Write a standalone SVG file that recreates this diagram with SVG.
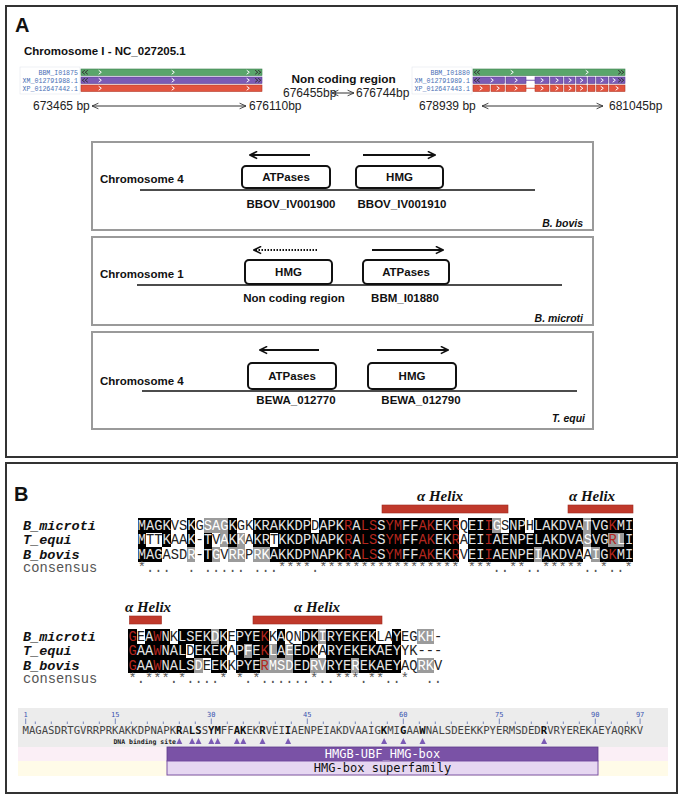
<svg xmlns="http://www.w3.org/2000/svg" width="684" height="800" viewBox="0 0 684 800">
<defs>
<style>
.sans{font-family:"Liberation Sans",Arial,sans-serif;fill:#111}
.bd{font-weight:bold}
.t{font-size:11.5px}
.gl{font-family:"Liberation Mono",monospace;font-size:6.6px;fill:#4a6fb5}
.bp{font-family:"Liberation Sans",Arial,sans-serif;font-size:12px;fill:#222}
.gbox{fill:#fff;stroke:#111;stroke-width:2}
.sub{fill:#fff;stroke:#9a9a9a;stroke-width:2}
.panel{fill:none;stroke:#333;stroke-width:2}
.arr{stroke:#111;stroke-width:2;fill:none}
.thin{stroke:#333;stroke-width:1;fill:none}
.chr{stroke:#111;stroke-width:1.5}
.seq{font-family:"Liberation Mono","Courier New",monospace;font-size:13.75px;white-space:pre}
.nm{font-family:"Liberation Mono","Courier New",monospace;font-size:13.5px;font-weight:bold;font-style:italic;fill:#111}
.cons{font-family:"Liberation Mono","Courier New",monospace;font-size:13.75px;fill:#555;white-space:pre}
.k{fill:#e4e4e4}.w{fill:#fff}.d{fill:#222}.r{fill:#b3261e}
.bk{fill:#000}.gy{fill:#9b9b9b}
.helix{font-family:"Liberation Serif","Times New Roman",serif;font-size:15px;font-weight:bold;font-style:italic;fill:#111}
.hbar{fill:#c0392b;stroke:#9e2a20;stroke-width:0.6}
.ds{font-family:"DejaVu Sans Mono","Liberation Mono",monospace;font-size:10.63px;fill:#444}
.ruler{font-family:"DejaVu Sans Mono","Liberation Mono",monospace;font-size:7px;fill:#3a55b0}
.green{fill:#5aa56b;stroke:#3d7f4e;stroke-width:0.6}
.purple{fill:#7b5bb5;stroke:#5a3f93;stroke-width:0.6}
.red{fill:#e2543f;stroke:#b23b2a;stroke-width:0.6}
</style>
<marker id="ah" viewBox="0 0 10 10" refX="9" refY="5" markerWidth="4.5" markerHeight="4.5" orient="auto-start-reverse"><path d="M1,1 L9,5 L1,9" fill="none" stroke="#111" stroke-width="1.8"/></marker>
<marker id="ah2" viewBox="0 0 10 10" refX="9" refY="5" markerWidth="8" markerHeight="8" orient="auto-start-reverse"><path d="M1,1.5 L9,5 L1,8.5" fill="none" stroke="#333" stroke-width="1.1"/></marker>
<path id="cw" d="M-1.3,-2 L1.3,0 L-1.3,2" fill="none" stroke="#fff" stroke-width="1"/>
<path id="cl" d="M1.3,-2 L-1.3,0 L1.3,2" fill="none" stroke="#333" stroke-width="1"/>
<path id="cr" d="M-1.3,-2 L1.3,0 L-1.3,2" fill="none" stroke="#333" stroke-width="1"/>
</defs>
<rect width="684" height="800" fill="#fff"/>

<!-- PANEL A -->
<g id="panelA">
<rect class="panel" x="6" y="6" width="671" height="451"/>
<text class="sans bd" x="15" y="32" font-size="20">A</text>
<text class="sans bd" x="24" y="55" font-size="11.5">Chromosome I - NC_027205.1</text>

<g id="tracksLeft">
<rect x="20" y="67" width="60" height="27" fill="#fff" stroke="#e3e6ee" stroke-width="0.6"/>
<text class="gl" x="78" y="74.5" text-anchor="end">BBM_I01875</text>
<text class="gl" x="78" y="82.5" text-anchor="end">XM_012791988.1</text>
<text class="gl" x="78" y="90.5" text-anchor="end">XP_012647442.1</text>
<rect class="green" x="81" y="69" width="181" height="6.5"/>
<rect class="purple" x="81" y="77" width="181" height="6.5"/>
<rect class="red" x="81" y="85" width="181" height="6.5"/>
<use href="#cl" x="83.5" y="72.25"/><use href="#cl" x="86.5" y="72.25"/>
<use href="#cw" x="100" y="72.25"/><use href="#cw" x="173" y="72.25"/><use href="#cw" x="248" y="72.25"/>
<use href="#cr" x="256.5" y="72.25"/><use href="#cr" x="259.5" y="72.25"/>
<use href="#cl" x="83.5" y="80.25"/><use href="#cl" x="86.5" y="80.25"/>
<use href="#cw" x="100" y="80.25"/><use href="#cw" x="173" y="80.25"/><use href="#cw" x="248" y="80.25"/>
<use href="#cr" x="256.5" y="80.25"/><use href="#cr" x="259.5" y="80.25"/>
<use href="#cw" x="100" y="88.25"/><use href="#cw" x="173" y="88.25"/><use href="#cw" x="248" y="88.25"/>
<text class="bp" x="33" y="110">673465 bp</text>
<line class="thin" x1="92" y1="106" x2="246" y2="106" marker-start="url(#ah2)" marker-end="url(#ah2)"/>
<text class="bp" x="249" y="110">676110bp</text>
</g>

<g id="noncoding">
<text class="sans bd" x="291.5" y="82.5" font-size="11.8">Non coding region</text>
<text class="bp" x="283" y="96.5" font-size="10.5">676455bp</text>
<line class="thin" x1="332" y1="93" x2="354" y2="93" marker-start="url(#ah2)" marker-end="url(#ah2)"/>
<text class="bp" x="356" y="96.5" font-size="10.5">676744bp</text>
</g>

<g id="tracksRight">
<rect x="412" y="67" width="60" height="27" fill="#fff" stroke="#e3e6ee" stroke-width="0.6"/>
<text class="gl" x="470" y="74.5" text-anchor="end">BBM_I01880</text>
<text class="gl" x="470" y="82.5" text-anchor="end">XM_012791989.1</text>
<text class="gl" x="470" y="90.5" text-anchor="end">XP_012647443.1</text>
<rect class="green" x="473" y="69" width="152" height="6.5"/>
<use href="#cl" x="475.5" y="72.25"/><use href="#cl" x="478.5" y="72.25"/>
<use href="#cw" x="512" y="72.25"/><use href="#cw" x="587" y="72.25"/>
<use href="#cr" x="619.5" y="72.25"/><use href="#cr" x="622.5" y="72.25"/>
<line x1="526" y1="80.25" x2="535" y2="80.25" stroke="#7b5bb5" stroke-width="1"/>
<g class="purple">
<rect x="473" y="77" width="31.5" height="6.5"/><rect x="506" y="77" width="20" height="6.5"/>
<rect x="535" y="77" width="14" height="6.5"/><rect x="550.5" y="77" width="12.5" height="6.5"/>
<rect x="564.5" y="77" width="10.5" height="6.5"/><rect x="576.5" y="77" width="10" height="6.5"/>
<rect x="588" y="77" width="7" height="6.5"/><rect x="596.5" y="77" width="11.5" height="6.5"/>
<rect x="609.5" y="77" width="15.5" height="6.5"/>
</g>
<use href="#cl" x="475.5" y="80.25"/><use href="#cl" x="478.5" y="80.25"/>
<use href="#cw" x="492" y="80.25"/><use href="#cw" x="516" y="80.25"/><use href="#cw" x="542" y="80.25"/>
<use href="#cw" x="557" y="80.25"/><use href="#cw" x="570" y="80.25"/><use href="#cw" x="581.5" y="80.25"/>
<use href="#cw" x="602" y="80.25"/><use href="#cw" x="614" y="80.25"/>
<use href="#cr" x="619.5" y="80.25"/><use href="#cr" x="622.5" y="80.25"/>
<line x1="526" y1="88.25" x2="535" y2="88.25" stroke="#e2543f" stroke-width="1"/>
<g class="red">
<rect x="473" y="85" width="16.5" height="6.5"/><rect x="491" y="85" width="13.5" height="6.5"/>
<rect x="506" y="85" width="20" height="6.5"/>
<rect x="535" y="85" width="14" height="6.5"/><rect x="550.5" y="85" width="12.5" height="6.5"/>
<rect x="564.5" y="85" width="10.5" height="6.5"/><rect x="576.5" y="85" width="10" height="6.5"/>
<rect x="588" y="85" width="7" height="6.5"/><rect x="596.5" y="85" width="11.5" height="6.5"/>
<rect x="609.5" y="85" width="15.5" height="6.5"/>
</g>
<use href="#cw" x="481" y="88.25"/><use href="#cw" x="498" y="88.25"/><use href="#cw" x="516" y="88.25"/>
<use href="#cw" x="542" y="88.25"/><use href="#cw" x="557" y="88.25"/><use href="#cw" x="570" y="88.25"/>
<use href="#cw" x="581.5" y="88.25"/><use href="#cw" x="602" y="88.25"/><use href="#cw" x="617" y="88.25"/>
<text class="bp" x="419" y="110">678939 bp</text>
<line class="thin" x1="482" y1="106" x2="603" y2="106" marker-start="url(#ah2)" marker-end="url(#ah2)"/>
<text class="bp" x="609" y="110">681045bp</text>
</g>

<g id="bbovis">
<rect class="sub" x="92" y="142" width="501" height="88"/>
<line class="chr" x1="140" y1="190" x2="535" y2="190"/>
<text class="sans bd t" x="100" y="183" font-size="11">Chromosome 4</text>
<line class="arr" x1="310" y1="155" x2="250" y2="155" marker-end="url(#ah)"/>
<line class="arr" x1="363" y1="155" x2="435" y2="155" marker-end="url(#ah)"/>
<rect class="gbox" x="242" y="166" width="88" height="22" rx="4"/>
<rect class="gbox" x="356" y="166" width="87" height="22" rx="4"/>
<text class="sans bd t" x="286" y="181" text-anchor="middle">ATPases</text>
<text class="sans bd t" x="399.5" y="181" text-anchor="middle">HMG</text>
<text class="sans bd t" x="291" y="208" text-anchor="middle">BBOV_IV001900</text>
<text class="sans bd t" x="402" y="208" text-anchor="middle">BBOV_IV001910</text>
<text class="sans bd" x="583" y="227" font-size="10.5" font-style="italic" text-anchor="end">B. bovis</text>
</g>

<g id="bmicroti">
<rect class="sub" x="92" y="237" width="501" height="88"/>
<line class="chr" x1="137" y1="285" x2="562" y2="285"/>
<text class="sans bd t" x="100" y="278" font-size="11">Chromosome 1</text>
<line class="arr" x1="317" y1="250" x2="254" y2="250" stroke-dasharray="1.5,1.5" stroke-width="1.8" marker-end="url(#ah)"/>
<line class="arr" x1="372" y1="250" x2="443" y2="250" marker-end="url(#ah)"/>
<rect class="gbox" x="245" y="260" width="87" height="24" rx="4"/>
<rect class="gbox" x="363" y="260" width="86" height="24" rx="4"/>
<text class="sans bd t" x="288.5" y="276" text-anchor="middle">HMG</text>
<text class="sans bd t" x="406" y="276" text-anchor="middle">ATPases</text>
<text class="sans bd t" x="294" y="302" text-anchor="middle">Non coding region</text>
<text class="sans bd t" x="405" y="302" text-anchor="middle">BBM_I01880</text>
<text class="sans bd" x="583" y="322" font-size="10.5" font-style="italic" text-anchor="end">B. microti</text>
</g>

<g id="tequi">
<rect class="sub" x="92" y="332" width="501" height="97"/>
<line class="chr" x1="142" y1="391" x2="577" y2="391"/>
<text class="sans bd t" x="100" y="385" font-size="11">Chromosome 4</text>
<line class="arr" x1="319" y1="350" x2="260" y2="350" marker-end="url(#ah)"/>
<line class="arr" x1="377" y1="350" x2="448" y2="350" marker-end="url(#ah)"/>
<rect class="gbox" x="248" y="363" width="88" height="26" rx="4"/>
<rect class="gbox" x="368" y="363" width="88" height="26" rx="4"/>
<text class="sans bd t" x="292" y="380" text-anchor="middle">ATPases</text>
<text class="sans bd t" x="412" y="380" text-anchor="middle">HMG</text>
<text class="sans bd t" x="296" y="404" text-anchor="middle">BEWA_012770</text>
<text class="sans bd t" x="421" y="404" text-anchor="middle">BEWA_012790</text>
<text class="sans bd" x="585" y="422" font-size="10.5" font-style="italic" text-anchor="end">T. equi</text>
</g>
</g>

<!-- PANEL B -->
<g id="panelB">
<rect class="panel" x="6" y="463" width="671" height="330"/>
<text class="sans bd" x="14" y="501" font-size="20">B</text>

<g id="block1">
<rect class="hbar" x="382" y="505" width="126" height="8"/>
<rect class="hbar" x="568" y="505" width="65" height="8"/>
<text class="helix" x="440" y="501" text-anchor="middle">α Helix</text>
<text class="helix" x="592" y="501" text-anchor="middle">α Helix</text>
<text class="nm" x="23" y="529.5">B_microti</text>
<text class="nm" x="23" y="544">T_equi</text>
<text class="nm" x="23" y="558.5">B_bovis</text>
<text class="cons" x="23" y="572">consensus</text>
<g transform="translate(137.7,518)" shape-rendering="crispEdges">
<g class="bk">
<rect x="0" y="0" width="33" height="14.5"/><rect x="49.5" y="0" width="8.25" height="14.5"/><rect x="90.75" y="0" width="8.25" height="14.5"/><rect x="115.5" y="0" width="57.75" height="14.5"/><rect x="181.5" y="0" width="140.25" height="14.5"/><rect x="330" y="0" width="24.75" height="14.5"/><rect x="371.25" y="0" width="16.5" height="14.5"/><rect x="396" y="0" width="49.5" height="14.5"/><rect x="453.75" y="0" width="41.25" height="14.5"/>
<rect x="0" y="14.5" width="8.25" height="14.5"/><rect x="24.75" y="14.5" width="8.25" height="14.5"/><rect x="49.5" y="14.5" width="8.25" height="14.5"/><rect x="66" y="14.5" width="8.25" height="14.5"/><rect x="90.75" y="14.5" width="8.25" height="14.5"/><rect x="115.5" y="14.5" width="16.5" height="14.5"/><rect x="140.25" y="14.5" width="181.5" height="14.5"/><rect x="330" y="14.5" width="115.5" height="14.5"/><rect x="453.75" y="14.5" width="16.5" height="14.5"/><rect x="486.75" y="14.5" width="8.25" height="14.5"/>
<rect x="0" y="29" width="24.75" height="14.5"/><rect x="66" y="29" width="8.25" height="14.5"/><rect x="132" y="29" width="189.75" height="14.5"/><rect x="330" y="29" width="66" height="14.5"/><rect x="404.25" y="29" width="41.25" height="14.5"/><rect x="462" y="29" width="33" height="14.5"/>
</g>
<g class="gy">
<rect x="66" y="0" width="24.75" height="14.5"/><rect x="354.75" y="0" width="8.25" height="14.5"/><rect x="445.5" y="0" width="8.25" height="14.5"/>
<rect x="82.5" y="14.5" width="8.25" height="14.5"/><rect x="99" y="14.5" width="8.25" height="14.5"/><rect x="445.5" y="14.5" width="8.25" height="14.5"/><rect x="470.25" y="14.5" width="16.5" height="14.5"/>
<rect x="49.5" y="29" width="8.25" height="14.5"/><rect x="74.25" y="29" width="8.25" height="14.5"/><rect x="90.75" y="29" width="16.5" height="14.5"/><rect x="115.5" y="29" width="16.5" height="14.5"/><rect x="396" y="29" width="8.25" height="14.5"/><rect x="453.75" y="29" width="8.25" height="14.5"/>
</g>
</g>
<text class="seq" x="137.7" y="529.5"><tspan class="k">MAGK</tspan><tspan class="d">VS</tspan><tspan class="k">K</tspan><tspan class="d">G</tspan><tspan class="w">SAG</tspan><tspan class="k">K</tspan><tspan class="d">GK</tspan><tspan class="k">KRAKKDP</tspan><tspan class="d">D</tspan><tspan class="k">APK</tspan><tspan class="r">R</tspan><tspan class="k">A</tspan><tspan class="r">LS</tspan><tspan class="k">S</tspan><tspan class="r">YM</tspan><tspan class="k">FF</tspan><tspan class="r">AK</tspan><tspan class="k">EK</tspan><tspan class="r">R</tspan><tspan class="d">Q</tspan><tspan class="k">EI</tspan><tspan class="r">I</tspan><tspan class="w">G</tspan><tspan class="d">S</tspan><tspan class="k">NP</tspan><tspan class="d">H</tspan><tspan class="k">LAKDVA</tspan><tspan class="w">T</tspan><tspan class="k">VG</tspan><tspan class="r">K</tspan><tspan class="k">MI</tspan></text>
<text class="seq" x="137.7" y="544"><tspan class="k">M</tspan><tspan class="d">TT</tspan><tspan class="k">K</tspan><tspan class="d">AA</tspan><tspan class="k">K</tspan><tspan class="d">-</tspan><tspan class="k">T</tspan><tspan class="d">V</tspan><tspan class="w">A</tspan><tspan class="k">K</tspan><tspan class="w">K</tspan><tspan class="d">A</tspan><tspan class="k">KR</tspan><tspan class="d">T</tspan><tspan class="k">KKDPNAPK</tspan><tspan class="r">R</tspan><tspan class="k">A</tspan><tspan class="r">LS</tspan><tspan class="k">S</tspan><tspan class="r">YM</tspan><tspan class="k">FF</tspan><tspan class="r">AK</tspan><tspan class="k">EK</tspan><tspan class="r">R</tspan><tspan class="d">A</tspan><tspan class="k">EI</tspan><tspan class="r">I</tspan><tspan class="k">AENPELAKDVA</tspan><tspan class="w">S</tspan><tspan class="k">VG</tspan><tspan class="r">R</tspan><tspan class="w">L</tspan><tspan class="k">I</tspan></text>
<text class="seq" x="137.7" y="558.5"><tspan class="k">MAG</tspan><tspan class="d">ASD</tspan><tspan class="w">R</tspan><tspan class="d">-</tspan><tspan class="k">T</tspan><tspan class="w">G</tspan><tspan class="d">V</tspan><tspan class="w">RR</tspan><tspan class="d">P</tspan><tspan class="w">RK</tspan><tspan class="k">AKKDPNAPK</tspan><tspan class="r">R</tspan><tspan class="k">A</tspan><tspan class="r">LS</tspan><tspan class="k">S</tspan><tspan class="r">YM</tspan><tspan class="k">FF</tspan><tspan class="r">AK</tspan><tspan class="k">EK</tspan><tspan class="r">R</tspan><tspan class="d">V</tspan><tspan class="k">EI</tspan><tspan class="r">I</tspan><tspan class="k">AENPE</tspan><tspan class="w">I</tspan><tspan class="k">AKDVA</tspan><tspan class="d">A</tspan><tspan class="w">I</tspan><tspan class="k">G</tspan><tspan class="r">K</tspan><tspan class="k">MI</tspan></text>
<text class="cons" x="137.7" y="572" xml:space="preserve">*...  . ..... ...****.***************** ***..**..*****..*..*</text>
</g>

<g id="block2">
<rect class="hbar" x="129.5" y="616" width="32" height="8"/>
<rect class="hbar" x="253" y="616" width="129" height="8"/>
<text class="helix" x="148" y="612" text-anchor="middle">α Helix</text>
<text class="helix" x="317" y="612" text-anchor="middle">α Helix</text>
<text class="nm" x="23" y="640.5">B_microti</text>
<text class="nm" x="23" y="655">T_equi</text>
<text class="nm" x="23" y="669.5">B_bovis</text>
<text class="cons" x="23" y="683">consensus</text>
<g transform="translate(128.4,629)" shape-rendering="crispEdges">
<g class="bk">
<rect x="0" y="0" width="8.25" height="14.5"/><rect x="16.5" y="0" width="24.75" height="14.5"/><rect x="49.5" y="0" width="33" height="14.5"/><rect x="90.75" y="0" width="8.25" height="14.5"/><rect x="107.25" y="0" width="33" height="14.5"/><rect x="148.5" y="0" width="8.25" height="14.5"/><rect x="173.25" y="0" width="16.5" height="14.5"/><rect x="198" y="0" width="49.5" height="14.5"/><rect x="264" y="0" width="8.25" height="14.5"/>
<rect x="0" y="14.5" width="57.75" height="14.5"/><rect x="66" y="14.5" width="33" height="14.5"/><rect x="107.25" y="14.5" width="8.25" height="14.5"/><rect x="123.75" y="14.5" width="16.5" height="14.5"/><rect x="148.5" y="14.5" width="8.25" height="14.5"/><rect x="165" y="14.5" width="24.75" height="14.5"/><rect x="198" y="14.5" width="74.25" height="14.5"/>
<rect x="0" y="29" width="66" height="14.5"/><rect x="82.5" y="29" width="16.5" height="14.5"/><rect x="107.25" y="29" width="24.75" height="14.5"/><rect x="165" y="29" width="16.5" height="14.5"/><rect x="198" y="29" width="24.75" height="14.5"/><rect x="231" y="29" width="41.25" height="14.5"/>
</g>
<g class="gy">
<rect x="82.5" y="0" width="8.25" height="14.5"/><rect x="189.75" y="0" width="8.25" height="14.5"/><rect x="288.75" y="0" width="16.5" height="14.5"/>
<rect x="115.5" y="14.5" width="8.25" height="14.5"/><rect x="140.25" y="14.5" width="8.25" height="14.5"/><rect x="156.75" y="14.5" width="8.25" height="14.5"/>
<rect x="66" y="29" width="8.25" height="14.5"/><rect x="132" y="29" width="33" height="14.5"/><rect x="181.5" y="29" width="16.5" height="14.5"/><rect x="222.75" y="29" width="8.25" height="14.5"/><rect x="288.75" y="29" width="16.5" height="14.5"/>
</g>
</g>
<text class="seq" x="128.4" y="640.5"><tspan class="r">G</tspan><tspan class="d">E</tspan><tspan class="k">A</tspan><tspan class="r">W</tspan><tspan class="k">N</tspan><tspan class="d">K</tspan><tspan class="k">LSEK</tspan><tspan class="w">D</tspan><tspan class="k">K</tspan><tspan class="d">E</tspan><tspan class="k">PYE</tspan><tspan class="r">K</tspan><tspan class="d">K</tspan><tspan class="k">A</tspan><tspan class="d">QN</tspan><tspan class="k">DK</tspan><tspan class="w">I</tspan><tspan class="k">RYEKEK</tspan><tspan class="d">LA</tspan><tspan class="k">Y</tspan><tspan class="d">EG</tspan><tspan class="w">KH</tspan><tspan class="d">-</tspan></text>
<text class="seq" x="128.4" y="655"><tspan class="r">G</tspan><tspan class="k">AA</tspan><tspan class="r">W</tspan><tspan class="k">NAL</tspan><tspan class="d">D</tspan><tspan class="k">EKEK</tspan><tspan class="d">A</tspan><tspan class="k">P</tspan><tspan class="w">F</tspan><tspan class="k">E</tspan><tspan class="r">K</tspan><tspan class="w">L</tspan><tspan class="k">A</tspan><tspan class="w">E</tspan><tspan class="k">EDK</tspan><tspan class="d">A</tspan><tspan class="k">RYEKEKAEY</tspan><tspan class="d">YK---</tspan></text>
<text class="seq" x="128.4" y="669.5"><tspan class="r">G</tspan><tspan class="k">AA</tspan><tspan class="r">W</tspan><tspan class="k">NALS</tspan><tspan class="w">D</tspan><tspan class="d">E</tspan><tspan class="k">EK</tspan><tspan class="d">K</tspan><tspan class="k">PYE</tspan><tspan class="r">R</tspan><tspan class="w">MSD</tspan><tspan class="k">ED</tspan><tspan class="w">RV</tspan><tspan class="k">RYE</tspan><tspan class="w">R</tspan><tspan class="k">EKAEY</tspan><tspan class="d">AQ</tspan><tspan class="w">RK</tspan><tspan class="d">V</tspan></text>
<text class="cons" x="128.4" y="683" xml:space="preserve">*.***.*....* *.*......*..***.**..*  ..</text>
</g>

<g id="domainViewer">
<rect x="18" y="708" width="650" height="39" fill="#ececec"/>
<rect x="18" y="747" width="650" height="14" fill="#fbeff6"/>
<rect x="18" y="761" width="650" height="15" fill="#fffbe8"/>
<g class="ruler" text-anchor="middle">
<text x="25.7" y="717">1</text><text x="115.3" y="717">15</text><text x="211.3" y="717">30</text><text x="307.3" y="717">45</text><text x="403.3" y="717">60</text><text x="499.3" y="717">75</text><text x="595.3" y="717">90</text><text x="640.1" y="717">97</text>
</g>
<path stroke="#5a6fb0" stroke-width="0.8" fill="none" d="M25.7,718.5V724 M115.3,718.5V724 M211.3,718.5V724 M307.3,718.5V724 M403.3,718.5V724 M499.3,718.5V724 M595.3,718.5V724 M640.1,718.5V724 M35.3,721.5V724 M51.3,721.5V724 M67.3,721.5V724 M83.3,721.5V724 M99.3,721.5V724 M131.3,721.5V724 M147.3,721.5V724 M163.3,721.5V724 M179.3,721.5V724 M195.3,721.5V724 M227.3,721.5V724 M243.3,721.5V724 M259.3,721.5V724 M275.3,721.5V724 M291.3,721.5V724 M323.3,721.5V724 M339.3,721.5V724 M355.3,721.5V724 M371.3,721.5V724 M387.3,721.5V724 M419.3,721.5V724 M435.3,721.5V724 M451.3,721.5V724 M467.3,721.5V724 M483.3,721.5V724 M515.3,721.5V724 M531.3,721.5V724 M547.3,721.5V724 M563.3,721.5V724 M579.3,721.5V724 M611.3,721.5V724 M627.3,721.5V724"/>
<text class="ds" x="22.5" y="734">MAGASDRTGVRRPRKAKKDPNAPK<tspan font-weight="bold" fill="#111">R</tspan>A<tspan font-weight="bold" fill="#111">LS</tspan>S<tspan font-weight="bold" fill="#111">YM</tspan>FF<tspan font-weight="bold" fill="#111">AK</tspan>EK<tspan font-weight="bold" fill="#111">R</tspan>VEI<tspan font-weight="bold" fill="#111">I</tspan>AENPEIAKDVAAIG<tspan font-weight="bold" fill="#111">K</tspan>MI<tspan font-weight="bold" fill="#111">G</tspan>AA<tspan font-weight="bold" fill="#111">W</tspan>NALSDEEKKPYERMSDED<tspan font-weight="bold" fill="#111">R</tspan>VRYEREKAEYAQRKV</text>
<text x="176" y="743.5" text-anchor="end" font-family="DejaVu Sans Mono, Liberation Mono, monospace" font-size="6.5" font-weight="bold" fill="#222">DNA binding site</text>
<g fill="#7b5bb5">
<polygon points="176.3,744 179.3,738 182.3,744"/><polygon points="189.1,744 192.1,738 195.1,744"/><polygon points="195.5,744 198.5,738 201.5,744"/><polygon points="208.3,744 211.3,738 214.3,744"/><polygon points="214.7,744 217.7,738 220.7,744"/><polygon points="233.9,744 236.9,738 239.9,744"/><polygon points="240.3,744 243.3,738 246.3,744"/><polygon points="259.5,744 262.5,738 265.5,744"/><polygon points="285.1,744 288.1,738 291.1,744"/><polygon points="381.1,744 384.1,738 387.1,744"/><polygon points="400.3,744 403.3,738 406.3,744"/><polygon points="419.5,744 422.5,738 425.5,744"/><polygon points="541.1,744 544.1,738 547.1,744"/>
</g>
<rect x="167" y="747" width="431" height="14" fill="#7a52a6" stroke="#5d3a8a" stroke-width="0.8"/>
<text x="382.5" y="757.8" text-anchor="middle" font-family="DejaVu Sans Mono, Liberation Mono, monospace" font-size="12" fill="#fff">HMGB-UBF_HMG-box</text>
<rect x="167" y="761" width="431" height="14" fill="#e6d7f1" stroke="#7a52a6" stroke-width="1"/>
<text x="382.5" y="772" text-anchor="middle" font-family="DejaVu Sans Mono, Liberation Mono, monospace" font-size="12" fill="#111">HMG-box superfamily</text>
</g>
</g>
</svg>
